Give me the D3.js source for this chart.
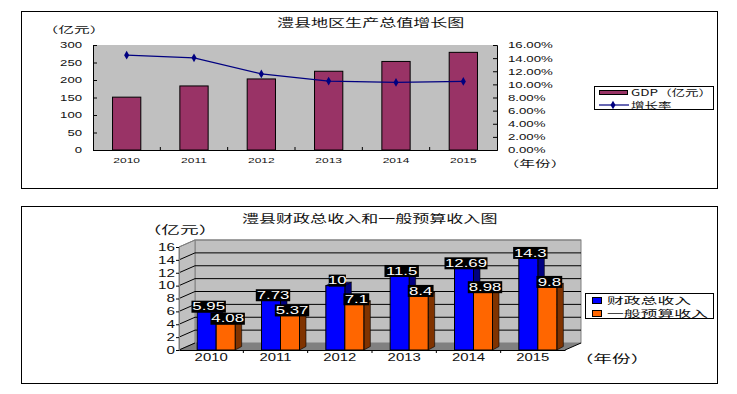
<!DOCTYPE html>
<html>
<head>
<meta charset="utf-8">
<script src="https://cdn.jsdelivr.net/npm/d3@7"></script>
<style>
  html, body { margin: 0; background: #fff; }
  svg { display: block; }
</style>
</head>
<body>
<div id="chart"></div>
<script>
// GDP chart
const gdpYears = ['2010', '2011', '2012', '2013', '2014', '2015'];
const gdpValues = [151, 183, 203, 225, 253, 279];
const growthRates = [14.45, 14.05, 11.6, 10.5, 10.3, 10.45];
const gdpTicks = [0, 50, 100, 150, 200, 250, 300];
const rateTicks = [0, 2, 4, 6, 8, 10, 12, 14, 16];

// fiscal chart
const fiscalYears = ['2010', '2011', '2012', '2013', '2014', '2015'];
const totalRevenue = [5.95, 7.73, 10, 11.5, 12.69, 14.3];
const budgetRevenue = [4.08, 5.37, 7.1, 8.4, 8.98, 9.8];
const fiscalTicks = [0, 2, 4, 6, 8, 10, 12, 14, 16];

const width = 737, height = 394;
const cjk = '"Noto Sans CJK SC", sans-serif';
const latin = '"Liberation Sans", sans-serif';

const svg = d3.select('#chart').append('svg')
  .attr('width', width)
  .attr('height', height)
  .attr('viewBox', [0, 0, width, height]);

// the source picture is stretched sideways, so all text gets a horizontal scale
function label(g, str, x, y, size, sx, anchor = 'start', fill = '#111', font = cjk) {
  return g.append('text')
    .attr('transform', `translate(${x},${y}) scale(${sx},1)`)
    .attr('text-anchor', anchor)
    .attr('dominant-baseline', 'central')
    .attr('font-family', font)
    .attr('font-size', size)
    .attr('fill', fill)
    .text(str);
}

function styleTicks(sel, size, sx, x, anchor) {
  sel.selectAll('text')
    .attr('font-family', latin)
    .attr('font-size', size)
    .attr('fill', '#111')
    .attr('text-anchor', anchor)
    .attr('transform', `scale(${sx},1)`)
    .attr('x', x / sx);
}

svg.append('rect').attr('x', 21.5).attr('y', 11.5).attr('width', 696).attr('height', 177)
  .attr('fill', '#fff').attr('stroke', '#000');
svg.append('rect').attr('x', 21.5).attr('y', 206.5).attr('width', 696).attr('height', 177)
  .attr('fill', '#fff').attr('stroke', '#000');

// --- top chart: bars + growth line ---
const top_ = svg.append('g');
const x1 = d3.scaleBand().domain(gdpYears).range([93, 497]).paddingInner(0.58).paddingOuter(0.29);
const yGdp = d3.scaleLinear().domain([0, 300]).range([150, 45]);
const yRate = d3.scaleLinear().domain([0, 16]).range([150, 45]);

top_.append('rect').attr('x', 93).attr('y', 45).attr('width', 404).attr('height', 105).attr('fill', '#c0c0c0');

top_.selectAll('rect.bar').data(gdpValues).join('rect')
  .attr('class', 'bar')
  .attr('x', (d, i) => x1(gdpYears[i]))
  .attr('y', d => yGdp(d))
  .attr('width', x1.bandwidth())
  .attr('height', d => yGdp(0) - yGdp(d))
  .attr('fill', '#993366')
  .attr('stroke', '#000');

const line = d3.line()
  .x((d, i) => x1(gdpYears[i]) + x1.bandwidth() / 2)
  .y(d => yRate(d));
top_.append('path').datum(growthRates)
  .attr('d', line)
  .attr('fill', 'none')
  .attr('stroke', '#000080')
  .attr('stroke-width', 1.2);
top_.selectAll('path.marker').data(growthRates).join('path')
  .attr('class', 'marker')
  .attr('d', d3.symbol(d3.symbolDiamond, 22))
  .attr('transform', (d, i) => `translate(${x1(gdpYears[i]) + x1.bandwidth() / 2},${yRate(d)})`)
  .attr('fill', '#000080');

const leftAxis = top_.append('g').attr('transform', 'translate(93,0)')
  .call(d3.axisLeft(yGdp).tickValues(gdpTicks).tickSize(-4).tickPadding(0));
styleTicks(leftAxis, 9, 1.46, -11, 'end');
const rightAxis = top_.append('g').attr('transform', 'translate(497,0)')
  .call(d3.axisRight(yRate).tickValues(rateTicks).tickSize(-4).tickFormat(d => d3.format('.2f')(d) + '%'));
styleTicks(rightAxis, 9, 1.47, 11, 'start');
const bottomAxis = top_.append('g').attr('transform', 'translate(0,150)')
  .call(d3.axisBottom(x1).tickSize(0).tickPadding(8));
styleTicks(bottomAxis, 7.5, 1.6, 0, 'middle');
// small inward ticks between the categories
top_.selectAll('line.sep').data(gdpYears.slice(1)).join('line')
  .attr('class', 'sep')
  .attr('x1', d => x1(d) - x1.step() * 0.29)
  .attr('x2', d => x1(d) - x1.step() * 0.29)
  .attr('y1', 150).attr('y2', 147)
  .attr('stroke', '#000');
top_.selectAll('.domain').attr('stroke', '#000');

label(top_, '澧县地区生产总值增长图', 277, 22, 11, 1.55);
label(top_, '（亿元）', 74, 29, 9, 1.75, 'middle');
label(top_, '（年份）', 535, 163, 9, 1.75, 'middle');

// legend
top_.append('rect').attr('x', 594.5).attr('y', 86.5).attr('width', 119).attr('height', 23).attr('fill', '#fff').attr('stroke', '#000');
top_.append('rect').attr('x', 599.5).attr('y', 90.5).attr('width', 28).attr('height', 4).attr('fill', '#993366').attr('stroke', '#000');
top_.append('line').attr('x1', 599).attr('x2', 629).attr('y1', 105).attr('y2', 105).attr('stroke', '#000080').attr('stroke-width', 1.2);
top_.append('path').attr('d', d3.symbol(d3.symbolDiamond, 22)).attr('transform', 'translate(613,105)').attr('fill', '#000080');
label(top_, 'GDP（亿元）', 631, 92.5, 9, 1.5);
label(top_, '增长率', 631, 105, 9, 1.5);

// --- bottom chart: fake 3d columns ---
const bottom_ = svg.append('g');
const depthX = 16, depthY = 7;
const x2 = d3.scaleBand().domain(fiscalYears).range([179, 565]);
const yFiscal = d3.scaleLinear().domain([0, 16]).range([350, 247]);
const barW = 19, sideX = 6.5, sideY = 3.5, barShift = 5;

bottom_.append('rect').attr('x', 195).attr('y', 240).attr('width', 386).attr('height', 103)
  .attr('fill', '#c0c0c0').attr('stroke', '#808080');
bottom_.append('polygon')
  .attr('points', [[179, 247], [195, 240], [195, 343], [179, 350]].join(' '))
  .attr('fill', '#c0c0c0').attr('stroke', '#808080');
bottom_.append('polygon')
  .attr('points', [[179, 350], [195, 343], [581, 343], [565, 350]].join(' '))
  .attr('fill', '#808080');

bottom_.selectAll('path.grid').data(fiscalTicks.slice(1)).join('path')
  .attr('class', 'grid')
  .attr('d', d => `M179,${yFiscal(d)}L${179 + depthX},${yFiscal(d) - depthY}H${179 + depthX + 386}`)
  .attr('fill', 'none')
  .attr('stroke', d => d === 16 ? '#808080' : '#000');
bottom_.append('line').attr('x1', 179).attr('y1', 350).attr('x2', 195).attr('y2', 343).attr('stroke', '#000');
bottom_.append('line').attr('x1', 565).attr('y1', 350).attr('x2', 581).attr('y2', 343).attr('stroke', '#000');

// one column: side, top, then front
function column(g, left, value, front, dark) {
  const t = yFiscal(value), b = yFiscal(0), r = left + barW;
  g.append('polygon')
    .attr('points', [[r, t], [r + sideX, t - sideY], [r + sideX, b - sideY], [r, b]].join(' '))
    .attr('fill', dark).attr('stroke', '#000').attr('stroke-width', 0.6);
  g.append('polygon')
    .attr('points', [[left, t], [left + sideX, t - sideY], [r + sideX, t - sideY], [r, t]].join(' '))
    .attr('fill', dark).attr('stroke', '#000').attr('stroke-width', 0.6);
  g.append('rect')
    .attr('x', left).attr('y', t).attr('width', barW).attr('height', b - t)
    .attr('fill', front).attr('stroke', '#000');
}

const columns = bottom_.append('g');
fiscalYears.forEach((year, i) => {
  const mid = x2(year) + x2.bandwidth() / 2 + barShift;
  column(columns, mid - barW, totalRevenue[i], '#0000ff', '#000080');
  column(columns, mid, budgetRevenue[i], '#ff6600', '#803300');
});

// value labels, black box with white text
function valueLabel(g, value, cx) {
  const str = String(value), w = str.length * 8.6, t = yFiscal(value);
  g.append('rect').attr('x', cx - w / 2).attr('y', t - 11).attr('width', w).attr('height', 12).attr('fill', '#000');
  label(g, str, cx, t - 5, 10.5, 1.6, 'middle', '#fff', latin);
}
const values = bottom_.append('g');
fiscalYears.forEach((year, i) => {
  const mid = x2(year) + x2.bandwidth() / 2 + barShift;
  valueLabel(values, totalRevenue[i], mid - barW / 2 + 2);
  valueLabel(values, budgetRevenue[i], mid + barW / 2 + 2);
});

const fiscalLeft = bottom_.append('g').attr('transform', 'translate(179,0)')
  .call(d3.axisLeft(yFiscal).tickValues(fiscalTicks).tickSize(3).tickPadding(0));
fiscalLeft.select('.domain').attr('stroke', '#808080');
styleTicks(fiscalLeft, 10.5, 1.45, -4, 'end');
const fiscalBottom = bottom_.append('g').attr('transform', 'translate(0,350)')
  .call(d3.axisBottom(x2).tickSize(0).tickPadding(4));
styleTicks(fiscalBottom, 10.5, 1.42, 0, 'middle');
bottom_.selectAll('line.sep').data(fiscalYears.slice(1)).join('line')
  .attr('class', 'sep')
  .attr('x1', d => x2(d)).attr('x2', d => x2(d))
  .attr('y1', 350).attr('y2', 353)
  .attr('stroke', '#000');

label(bottom_, '澧县财政总收入和一般预算收入图', 242, 218, 11, 1.55);
label(bottom_, '（亿元）', 180, 229, 11, 1.7, 'middle');
label(bottom_, '（年份）', 612, 358, 11, 1.7, 'middle');

// legend
bottom_.append('rect').attr('x', 585.5).attr('y', 293.5).attr('width', 128).attr('height', 25).attr('fill', '#fff').attr('stroke', '#000');
bottom_.append('rect').attr('x', 592.5).attr('y', 297.5).attr('width', 9).attr('height', 6).attr('fill', '#0000ff').attr('stroke', '#000');
bottom_.append('rect').attr('x', 592.5).attr('y', 310.5).attr('width', 9).attr('height', 6).attr('fill', '#ff6600').attr('stroke', '#000');
label(bottom_, '财政总收入', 607, 299.5, 9.5, 1.77);
label(bottom_, '一般预算收入', 607, 313, 9.5, 1.77);
</script>
</body>
</html>
